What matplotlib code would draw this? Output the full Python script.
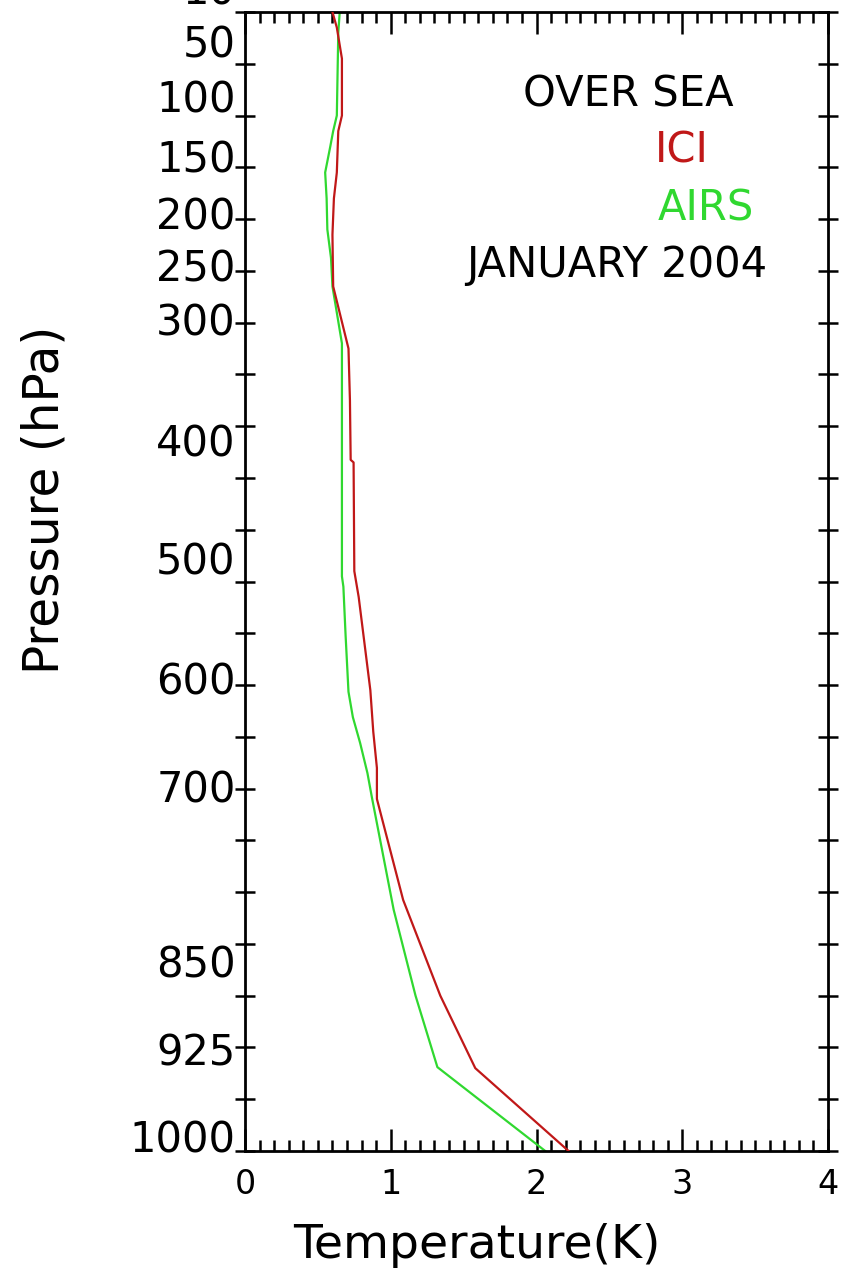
import matplotlib
matplotlib.use("Agg")
import matplotlib.pyplot as plt
import numpy as np

# ---------------- data ----------------
# vertical coordinate: model level index (0 = 1000 hPa at bottom, 22 = 10 hPa at top)
ici_level = [22.0, 21.7, 21.1, 20.0, 19.7, 18.9, 18.4, 17.7, 16.7, 15.5, 14.5, 13.35,
             13.3, 11.2, 10.7, 8.9, 8.1, 7.4, 6.8, 4.85, 3.0, 1.6, 0.0]
ici_temp = [0.60, 0.63, 0.665, 0.665, 0.64, 0.63, 0.61, 0.60, 0.605, 0.71, 0.72, 0.725,
            0.745, 0.75, 0.78, 0.86, 0.88, 0.905, 0.905, 1.085, 1.34, 1.58, 2.22]

airs_level = [22.0, 21.6, 20.0, 19.7, 19.4, 18.9, 18.4, 17.8, 17.25, 16.7, 15.6, 11.1,
              10.9, 9.97, 8.87, 8.38, 7.88, 7.3, 6.84, 4.66, 3.0, 1.62, 0.0]
airs_temp = [0.65, 0.64, 0.63, 0.605, 0.585, 0.55, 0.56, 0.565, 0.59, 0.60, 0.665, 0.665,
             0.675, 0.69, 0.71, 0.74, 0.79, 0.84, 0.87, 1.02, 1.17, 1.32, 2.06]

pressure_labels = ["10", "50", "100", "150", "200", "250", "300", "400", "500",
                   "600", "700", "850", "925", "1000"]
# layout: where each pressure label sits (level-index units)
pressure_label_pos = [22.37, 21.36, 20.3, 19.14, 18.04, 17.02, 15.99, 13.64, 11.36,
                      9.04, 6.97, 3.59, 1.89, 0.21]

x_ticks = [0, 1, 2, 3, 4]

RED = "#c01818"
GREEN = "#30d830"

# ---------------- figure ----------------
W, H = 842, 1271
fig = plt.figure(figsize=(W / 100, H / 100), dpi=100)
L, R, B, T = 245, 828, 1151, 12
ax = fig.add_axes([L / W, (H - B) / H, (R - L) / W, (B - T) / H])

ax.plot(ici_temp, ici_level, color=RED, lw=1.6, zorder=3)
ax.plot(airs_temp, airs_level, color=GREEN, lw=1.6, zorder=2)

ax.set_xlim(0, 4)
ax.set_ylim(0, 22)

for s in ax.spines.values():
    s.set_linewidth(2.0)

ax.set_xticks(x_ticks)
ax.set_xticklabels([str(t) for t in x_ticks], fontsize=24)
ax.set_xticks(np.arange(0, 4.0001, 0.1), minor=True)
ax.tick_params(axis="x", which="major", direction="in", length=16, width=1.8,
               top=True, bottom=True, pad=12)
ax.tick_params(axis="x", which="minor", direction="in", length=8, width=1.8,
               top=True, bottom=True)

ax.set_yticks(np.arange(0, 23, 1))
ax.set_yticklabels([])
ax.tick_params(axis="y", which="major", direction="inout", length=14, width=1.8,
               left=True, right=True)

for lab, pos in zip(pressure_labels, pressure_label_pos):
    ax.text(-0.065, pos, lab, ha="right", va="center", fontsize=30, clip_on=False)

# axis titles placed in figure pixel coordinates
fig.text(477 / W, 1 - 1245 / H, "Temperature(K)", ha="center", va="center", fontsize=34)
fig.text(45 / W, 1 - 500 / H, "Pressure (hPa)", ha="center", va="center",
         fontsize=35, rotation=90)

ax.text(2.63, 20.4, "OVER SEA", ha="center", va="center", fontsize=30)
ax.text(3.0, 19.33, "ICI", ha="center", va="center", fontsize=30, color=RED)
ax.text(3.16, 18.21, "AIRS", ha="center", va="center", fontsize=30, color=GREEN)
ax.text(2.55, 17.11, "JANUARY 2004", ha="center", va="center", fontsize=30)

fig.savefig("out.png", dpi=100)
